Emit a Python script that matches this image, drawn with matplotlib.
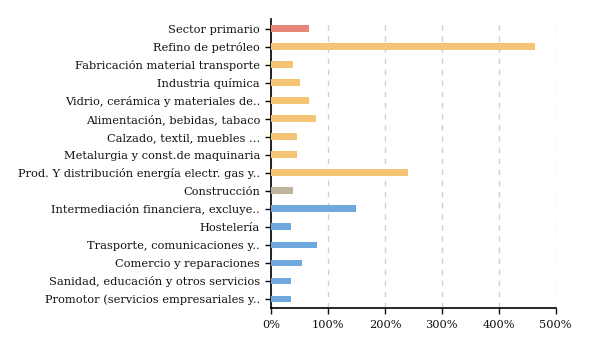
import matplotlib.pyplot as plt
from matplotlib.ticker import FuncFormatter

plt.rcParams['font.family'] = ['DejaVu Serif', 'Liberation Serif']

# datos (de arriba a abajo)
sectores = ['Sector primario', 'Refino de petróleo', 'Fabricación material transporte',
            'Industria química', 'Vidrio, cerámica y materiales de..',
            'Alimentación, bebidas, tabaco', 'Calzado, textil, muebles ...',
            'Metalurgia y const.de maquinaria', 'Prod. Y distribución energía electr. gas y..',
            'Construcción', 'Intermediación financiera, excluye..', 'Hostelería',
            'Trasporte, comunicaciones y..', 'Comercio y reparaciones',
            'Sanidad, educación y otros servicios', 'Promotor (servicios empresariales y..']
valores = [67, 463, 39, 51, 66, 78, 45, 46, 240, 39, 149, 35, 80, 54, 34, 34]
grupos = ['primario'] + ['industria'] * 8 + ['construccion'] + ['servicios'] * 6
colores_grupo = {'primario': '#E8857B', 'industria': '#F5C474',
                 'construccion': '#BEB49C', 'servicios': '#6FA8DC'}
xticks = [0, 100, 200, 300, 400, 500]

fig = plt.figure(figsize=(6, 3.5), dpi=100)
ax = fig.add_axes([0.452, 0.121, 0.474, 0.825])

pos = list(range(len(sectores)))[::-1]
ax.barh(pos, valores, height=0.38, color=[colores_grupo[g] for g in grupos], zorder=3)

ax.set_yticks(pos)
ax.set_yticklabels(sectores, fontsize=8.2, color='#111111')
ax.set_ylim(-0.48, len(sectores) - 0.46)
ax.set_xlim(0, 500)
ax.set_xticks(xticks)
ax.xaxis.set_major_formatter(FuncFormatter(lambda v, p: '%d%%' % v))
ax.tick_params(axis='x', labelsize=8.2, length=4, width=1, colors='#111111', pad=5)
ax.tick_params(axis='y', length=4, width=1, pad=4)
ax.grid(axis='x', linestyle=(0, (4, 4)), color='#D0D0D0', linewidth=1, zorder=0)
ax.spines['top'].set_visible(False)
ax.spines['right'].set_visible(False)
ax.spines['left'].set_linewidth(1.2)
ax.spines['bottom'].set_linewidth(1.2)

fig.savefig('out.png')
